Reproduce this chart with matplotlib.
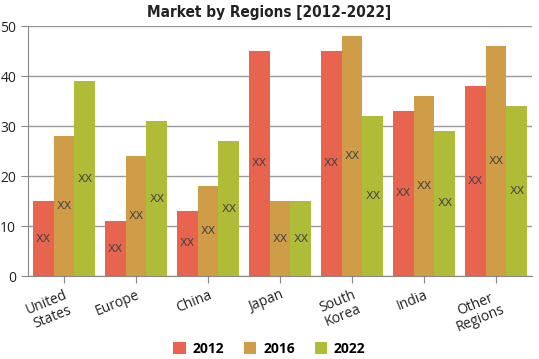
import matplotlib
matplotlib.use("Agg")
import matplotlib.pyplot as plt
import numpy as np

REGIONS = ["United\nStates", "Europe", "China", "Japan", "South\nKorea", "India", "Other\nRegions"]
YEARS = ["2012", "2016", "2022"]
V2012 = [15, 11, 13, 45, 45, 33, 38]
V2016 = [28, 24, 18, 15, 48, 36, 46]
V2022 = [39, 31, 27, 15, 32, 29, 34]
COLORS = ["#E8644E", "#CF9D48", "#B0BC38"]

fig = plt.figure(figsize=(5.39, 3.59), dpi=100)
ax = fig.add_axes([28 / 539, 83 / 359, 504 / 539, 250 / 359])

x = np.arange(len(REGIONS))
w = 0.29
for i, (vals, col, yr) in enumerate(zip((V2012, V2016, V2022), COLORS, YEARS)):
    bars = ax.bar(x + (i - 1) * w, vals, w, color=col, label=yr, zorder=2)
    for b, v in zip(bars, vals):
        ax.text(b.get_x() + b.get_width() / 2, v / 2, "XX", ha="center", va="center",
                fontsize=8, color="#444444", family="DejaVu Sans", zorder=3)

ax.set_xlim(-0.5, len(REGIONS) - 0.5)
ax.set_ylim(0, 50)
ax.set_yticks(range(0, 51, 10))
ax.grid(axis="y", color="#9a9a9a", linewidth=1.0, zorder=0)
ax.set_axisbelow(True)
for s in ("top", "right"):
    ax.spines[s].set_visible(False)
for s in ("left", "bottom"):
    ax.spines[s].set_color("#888888")
ax.tick_params(colors="#888888", labelcolor="#222222", labelsize=10, length=5)
ax.set_xticks(x)
ax.set_xticklabels(REGIONS, rotation=22, ha="right", rotation_mode="anchor",
                   family="Open Sans", linespacing=1.0, multialignment="center")
for t in ax.get_yticklabels():
    t.set_family("Open Sans")

fig.text(0.5, 1 - 12 / 359, "Market by Regions [2012-2022]", ha="center", va="center",
         fontsize=11, fontweight="bold", fontstretch="condensed",
         family="DejaVu Sans", color="#222222")

fig.legend(loc="center", bbox_to_anchor=(0.5, 1 - 349 / 359), ncol=3, frameon=False,
           handlelength=0.9, handleheight=0.9, handletextpad=0.5, columnspacing=1.4,
           prop={"family": "Open Sans", "weight": "bold", "size": 10})

fig.savefig("out.png", dpi=100)
